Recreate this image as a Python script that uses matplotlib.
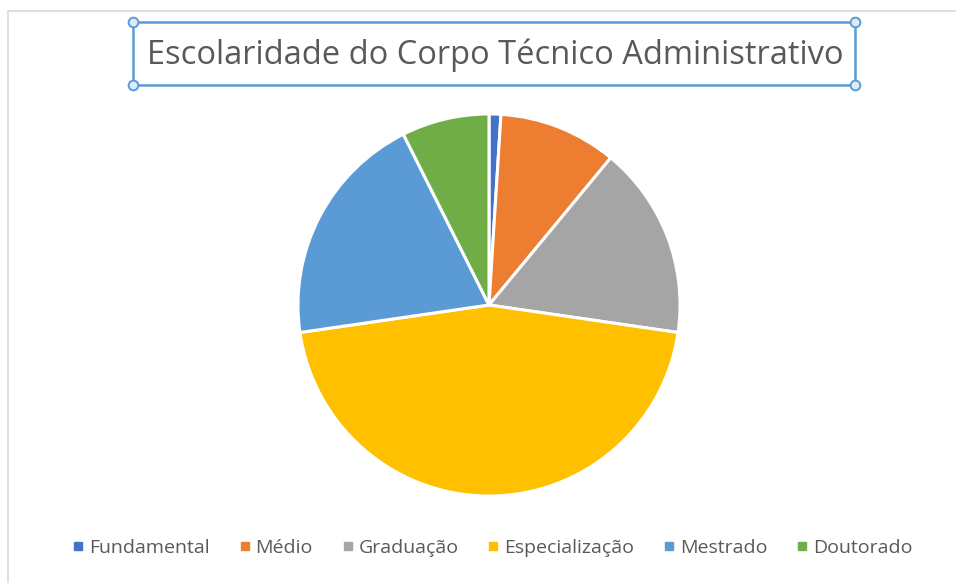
import matplotlib
matplotlib.use("Agg")
import matplotlib.pyplot as plt
from matplotlib.patches import Rectangle
from matplotlib.lines import Line2D

# data (percent shares)
categories = ["Fundamental", "Médio", "Graduação", "Especialização", "Mestrado", "Doutorado"]
values = [1.0, 10.0, 16.3, 45.4, 19.9, 7.4]
colors = ["#4472C4", "#ED7D31", "#A5A5A5", "#FFC000", "#5B9BD5", "#70AD47"]
title = "Escolaridade do Corpo Técnico Administrativo"

plt.rcParams['font.family'] = ['Open Sans', 'DejaVu Sans']

W, H = 956, 583
fig = plt.figure(figsize=(W / 100, H / 100), dpi=100)
fig.patch.set_facecolor("white")

# outer chart border (light gray)
fig.add_artist(Rectangle((8 / W, -0.01), 1.1, 1 - 11 / H + 0.01, transform=fig.transFigure,
                         fill=False, edgecolor="#D9D9D9", linewidth=1.2))

# pie
ax = fig.add_axes([(489 - 192) / W, (H - 497) / H, 384 / W, 384 / H])
ax.pie(values, colors=colors, startangle=90, counterclock=False,
       wedgeprops=dict(edgecolor="white", linewidth=2.2))
ax.set_xlim(-1.005, 1.005)
ax.set_ylim(-1.005, 1.005)
ax.set_aspect("equal")

# title
fig.text(495 / W, 1 - 55 / H, title, ha="center", va="center",
         fontsize=23.5, color="#595959")

# selection box round the title
x0, y0, x1, y1 = 133, 22, 855, 85
fig.add_artist(Rectangle((x0 / W, 1 - y1 / H), (x1 - x0) / W, (y1 - y0) / H,
                         transform=fig.transFigure, fill=False,
                         edgecolor="#5B9BD5", linewidth=1.8))
for (px, py) in [(x0, y0), (x1, y0), (x0, y1), (x1, y1)]:
    fig.add_artist(Line2D([px / W], [1 - py / H], marker="o", markersize=7,
                          markerfacecolor="#DEEBF7", markeredgecolor="#5B9BD5",
                          markeredgewidth=1.4, transform=fig.transFigure))

# legend
handles = [Line2D([], [], marker="s", linestyle="", markersize=6,
                  markerfacecolor=c, markeredgecolor=c) for c in colors]
leg = fig.legend(handles, categories, loc="center", bbox_to_anchor=(493 / W, 1 - 548 / H),
                 ncol=6, frameon=False, fontsize=14, handlelength=0.5,
                 handletextpad=0.3, columnspacing=1.55, labelcolor="#595959")

fig.savefig("out.png", dpi=100)
